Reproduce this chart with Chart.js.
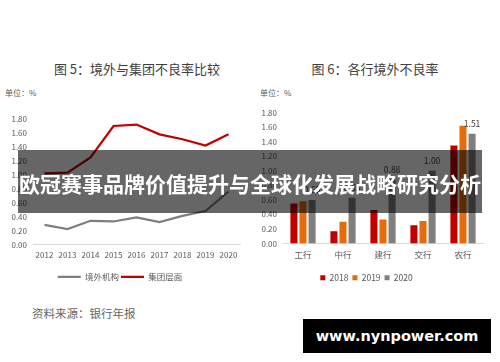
<!DOCTYPE html>
<html><head><meta charset="utf-8">
<script src="https://cdn.jsdelivr.net/npm/chart.js@4"></script>
<style>
html,body{margin:0;padding:0;background:#fff;width:500px;height:362px;overflow:hidden;font-family:"Noto Sans CJK SC","Noto Sans",sans-serif;}
.abs{position:absolute;white-space:nowrap;}
.title{font-size:13px;color:#404040;line-height:13px;text-align:center;width:250px;}
.unit{font-size:8px;color:#595959;line-height:8px;}
#c1,#c2{position:absolute;top:100px;}
#overlay{position:absolute;left:18px;top:150px;width:464px;height:63px;background:rgba(0,0,0,0.6);}
#overlay div{position:absolute;left:0;top:23px;width:464px;text-align:center;color:#fff;font-weight:700;font-size:21px;line-height:21px;}
#src{left:32px;top:307px;font-size:11.5px;line-height:12px;color:#666;}
#wm{position:absolute;left:303px;top:319px;width:188px;height:34px;background:#000;color:#fff;font-family:"DejaVu Sans",sans-serif;font-weight:700;font-size:14.5px;line-height:34px;text-align:center;}
</style></head><body>
<div class="abs title" style="left:12px;top:62px;">图 5：境外与集团不良率比较</div>
<div class="abs title" style="left:250px;top:62px;">图 6：各行境外不良率</div>
<div class="abs unit" style="left:5px;top:89px;">单位：%</div>
<div class="abs unit" style="left:260px;top:89px;">单位：%</div>
<canvas id="c1" width="250" height="200" style="left:0;width:250px;height:200px;"></canvas>
<canvas id="c2" width="250" height="200" style="left:250px;width:250px;height:200px;"></canvas>
<div class="abs" id="src">资料来源：银行年报</div>
<div id="overlay"><div>欧冠赛事品牌价值提升与全球化发展战略研究分析</div></div>
<div id="wm">www.nynpower.com</div>
<script>
const years = ['2012','2013','2014','2015','2016','2017','2018','2019','2020'];
const overseas = [0.28,0.22,0.34,0.33,0.39,0.32,0.41,0.48,0.76];
const group = [1.02,1.03,1.25,1.70,1.72,1.58,1.51,1.42,1.58];
const banks = ['工行','中行','建行','交行','农行'];
const npl2018 = [0.55,0.17,0.46,0.25,1.35];
const npl2019 = [0.58,0.30,0.33,0.31,1.62];
const npl2020 = [0.60,0.63,0.88,1.00,1.51];
const barLabelValues = npl2020;

const FONT = '"Noto Sans CJK SC","Noto Sans",sans-serif';
Chart.defaults.font.family = FONT;
Chart.defaults.color = '#595959';
Chart.defaults.animation = false;

function yScale(){
  return {min:0,max:1.8,
    ticks:{stepSize:0.2,callback:v=>Number(v).toFixed(2),font:{size:8},color:'#595959',padding:6},
    grid:{display:false,drawTicks:false},border:{display:false},
    afterFit(s){s.width=33;}};
}
function xScale(size){
  return {offset:true,grid:{display:false,drawTicks:false},
    border:{display:true,color:'#d9d9d9',width:1},
    ticks:{font:{size:size},color:'#595959',padding:6,maxRotation:0,minRotation:0,autoSkip:false},
    afterFit(s){s.height=26;}};
}

new Chart(document.getElementById('c1'),{
  type:'line',
  data:{labels:years,datasets:[
    {label:'境外机构',data:overseas,borderColor:'#7f7f7f',backgroundColor:'#7f7f7f',borderWidth:2.25,pointRadius:0,tension:0},
    {label:'集团层面',data:group,borderColor:'#c00000',backgroundColor:'#c00000',borderWidth:2.25,pointRadius:0,tension:0}
  ]},
  options:{responsive:false,animation:false,
    layout:{padding:{top:19,right:10,left:0,bottom:9}},
    plugins:{tooltip:{enabled:false},
      legend:{position:'bottom',labels:{usePointStyle:true,pointStyle:'line',pointStyleWidth:23,font:{size:8.5},color:'#595959',padding:2}}},
    scales:{x:xScale(8),y:yScale()}
  }
});

const barLabels = {
  id:'barLabels',
  afterDatasetsDraw(chart){
    const meta = chart.getDatasetMeta(2);
    const ctx = chart.ctx;
    ctx.save();
    ctx.font = '8.5px '+FONT;
    ctx.fillStyle = '#404040';
    ctx.textAlign = 'center';
    ctx.textBaseline = 'middle';
    meta.data.forEach((el,i)=>{ ctx.fillText(barLabelValues[i].toFixed(2), el.x, el.y-10); });
    ctx.restore();
  }
};

new Chart(document.getElementById('c2'),{
  type:'bar',
  data:{labels:banks,datasets:[
    {label:'2018',data:npl2018,backgroundColor:'#c00000'},
    {label:'2019',data:npl2019,backgroundColor:'#e46c0a'},
    {label:'2020',data:npl2020,backgroundColor:'#7f7f7f'}
  ]},
  options:{responsive:false,animation:false,
    categoryPercentage:0.68,barPercentage:0.78,
    layout:{padding:{top:12.7,right:17,left:0,bottom:8}},
    plugins:{tooltip:{enabled:false},
      legend:{position:'bottom',labels:{boxWidth:5,boxHeight:5,font:{size:8.5},color:'#595959',padding:4}}},
    scales:{x:xScale(8.5),y:yScale()}
  },
  plugins:[barLabels]
});
</script>
</body></html>
